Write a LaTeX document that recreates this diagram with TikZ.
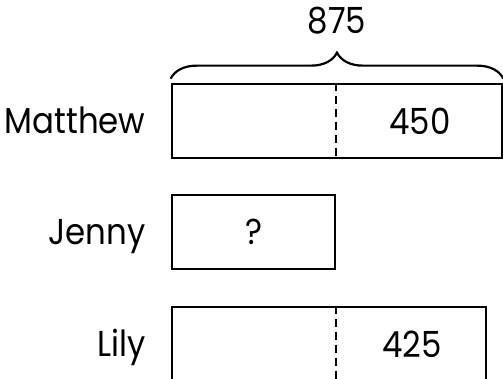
\documentclass[tikz,border=0pt]{standalone}
\usepackage{fontspec}
\setmainfont{Poppins}[FakeStretch=0.9]
\usetikzlibrary{positioning,calc,decorations.pathreplacing}
\tikzset{%
  BarBox/.style={draw,line width=2.7pt,minimum height=74pt,inner sep=0pt,font=\fontsize{36}{42}\selectfont},
  NameLabel/.style={inner sep=0pt,text height=25pt,text depth=0pt,font=\fontsize{36}{42}\selectfont}
}
\begin{document}
\begin{tikzpicture}[x=1pt,y=1pt]
\useasboundingbox (0,0) rectangle (503,379);

\node (m) [BarBox,minimum width=330pt] at (337,258) {};
\node (j) [BarBox,minimum width=163pt] at (253.5,147) {?};
\node (l) [BarBox,minimum width=314pt] at (329,35) {};

\node (lm) [NameLabel,left=25pt of m] {Matthew};
\node (lj) [NameLabel,left=25pt of j] {Jenny};
\node (ll) [NameLabel,left=25pt of l] {Lily};

\draw [line width=2pt,dash pattern=on 8pt off 5pt] (m.north -| j.east) -- (m.south -| j.east);
\draw [line width=2pt,dash pattern=on 8pt off 5pt] (l.north -| j.east) -- (l.south -| j.east);

\node (m450) [BarBox,draw=none,anchor=center] at ($(m.center -| j.east)!0.5!(m.east)$) {450};
\node (l425) [BarBox,draw=none,anchor=center] at ($(l.center -| j.east)!0.5!(l.east)$) {425};

\draw [line width=2.2pt,decorate,decoration={brace,amplitude=26pt}] ([yshift=4pt]m.north west) -- ([yshift=4pt]m.north east) node (total) [midway,above=43pt,font=\fontsize{36}{42}\selectfont,inner sep=0pt] {875};
\end{tikzpicture}
\end{document}
